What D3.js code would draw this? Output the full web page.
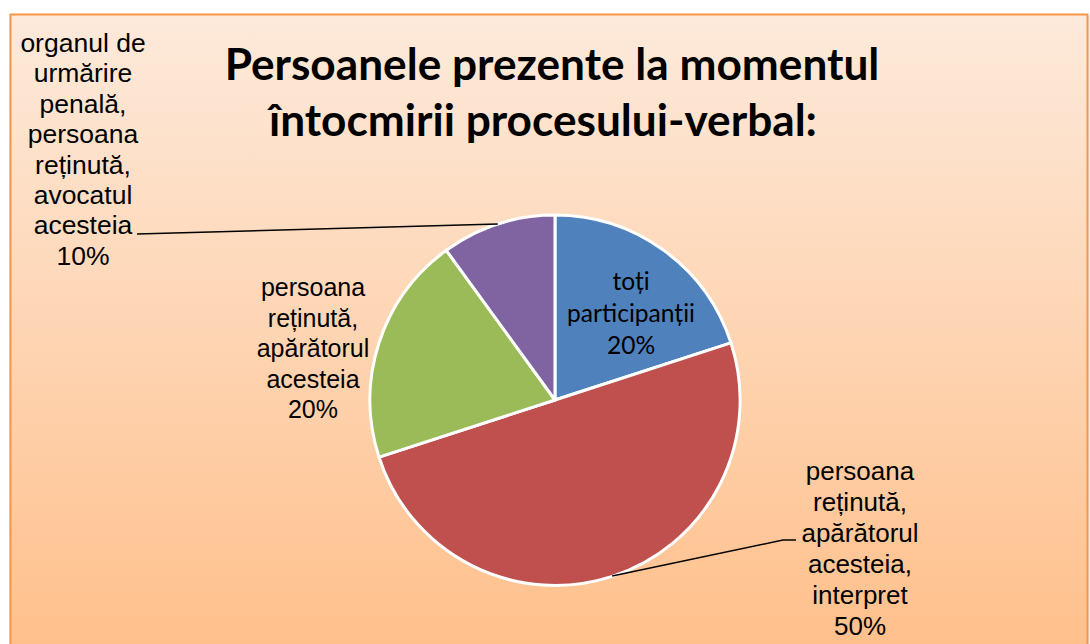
<!DOCTYPE html>
<html>
<head>
<meta charset="utf-8">
<script src="https://cdn.jsdelivr.net/npm/d3@7"></script>
<style>
  body { margin: 0; background: #fff; }
  svg { display: block; }
</style>
</head>
<body>
<svg id="chart" width="1090" height="644"></svg>
<script>
// data
var categories = ["toți participanții", "persoana reținută, apărătorul acesteia, interpret",
                  "persoana reținută, apărătorul acesteia", "organul de urmărire penală, persoana reținută, avocatul acesteia"];
var values = [20, 50, 20, 10];
var labelLines = [
    ["toți", "participanții", "20%"],
    ["persoana", "reținută,", "apărătorul", "acesteia,", "interpret", "50%"],
    ["persoana", "reținută,", "apărătorul", "acesteia", "20%"],
    ["organul de", "urmărire", "penală,", "persoana", "reținută,", "avocatul", "acesteia", "10%"]
];
var colors = ["#4F81BD", "#C0504D", "#9BBB59", "#8064A2"];
var titleLines = ["Persoanele prezente la momentul", "întocmirii procesului-verbal:"];

var svg = d3.select("#chart");

// background gradient
var grad = svg.append("defs").append("linearGradient")
    .attr("id", "bg").attr("x1", 0).attr("y1", 0).attr("x2", 0).attr("y2", 1);
grad.append("stop").attr("offset", "0%").attr("stop-color", "#FDEADB");
grad.append("stop").attr("offset", "100%").attr("stop-color", "#FFBE88");

svg.append("rect").attr("x", 9).attr("y", 16).attr("width", 1090).attr("height", 660)
    .attr("fill", "#000").attr("opacity", 0.08);
svg.append("rect").attr("x", 10.5).attr("y", 14.5).attr("width", 1077).attr("height", 660)
    .attr("fill", "url(#bg)").attr("stroke", "#F79646").attr("stroke-width", 2);

// title
var titleSize = 40;
var t1 = svg.append("text").attr("font-family", "Lato, 'Open Sans', sans-serif")
    .attr("font-weight", "bold").attr("font-size", titleSize).text(titleLines[0]);
titleSize = titleSize * 655 / t1.node().getComputedTextLength();
t1.attr("font-size", titleSize).attr("x", 552).attr("y", 80).attr("text-anchor", "middle");
svg.append("text").attr("font-family", "Lato, 'Open Sans', sans-serif")
    .attr("font-weight", "bold").attr("font-size", titleSize)
    .attr("x", 543).attr("y", 136).attr("text-anchor", "middle").text(titleLines[1]);

// pie
var cx = 555, cy = 400, radius = 185;
var pie = d3.pie().sort(null).value(function(d) { return d; });
var arc = d3.arc().innerRadius(0).outerRadius(radius);
var arcs = pie(values);

var g = svg.append("g").attr("transform", "translate(" + cx + "," + cy + ")");
g.selectAll("path").data(arcs).enter().append("path")
    .attr("d", arc)
    .attr("fill", function(d, i) { return colors[i]; })
    .attr("stroke", "#fff").attr("stroke-width", 3).attr("stroke-linejoin", "round");

function edgePoint(d) {
    var a = (d.startAngle + d.endAngle) / 2;
    return [cx + radius * Math.sin(a), cy - radius * Math.cos(a)];
}

// leader lines
var p3 = edgePoint(arcs[3]);
svg.append("path").attr("d", d3.line()([[137, 234], p3]))
    .attr("fill", "none").attr("stroke", "#000").attr("stroke-width", 1.5);
var p1 = edgePoint(arcs[1]);
svg.append("path").attr("d", d3.line()([p1, [783, 540], [796, 540]]))
    .attr("fill", "none").attr("stroke", "#000").attr("stroke-width", 1.5);

// labels: [center x, first baseline, line step, font, size]
var arialish = "'Liberation Sans', Arial, sans-serif";
var labelPos = [
    [631, 290, 32, "Lato, 'Open Sans', sans-serif", 24],
    [860, 480, 31, arialish, 26],
    [313, 296, 30.5, arialish, 25],
    [83, 52, 30.4, arialish, 26.5]
];

labelLines.forEach(function(lines, i) {
    var pos = labelPos[i];
    var txt = svg.append("text").attr("font-family", pos[3]).attr("font-size", pos[4])
        .attr("text-anchor", "middle").attr("fill", "#000");
    txt.selectAll("tspan").data(lines).enter().append("tspan")
        .attr("x", pos[0])
        .attr("y", function(d, j) { return pos[1] + j * pos[2]; })
        .text(function(d) { return d; });
    if (i === 0) {
        // fit inner label to the picture's width
        var w = txt.selectAll("tspan").nodes()[1].getComputedTextLength();
        txt.attr("font-size", pos[4] * 128 / w);
    }
});
</script>
</body>
</html>
